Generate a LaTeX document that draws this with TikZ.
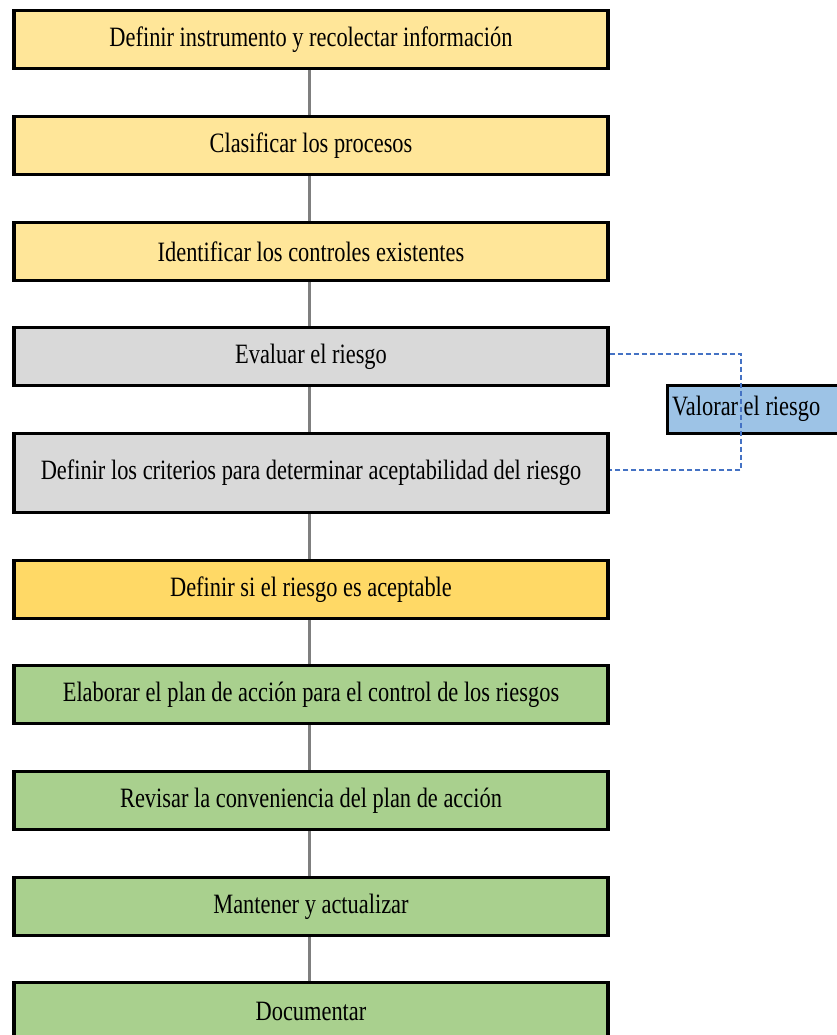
\documentclass[tikz,border=0pt]{standalone}
\usepackage{fontspec}
\setmainfont{Liberation Serif}[FakeStretch=0.8]
\definecolor{ylight}{HTML}{FFE699}
\definecolor{ygold}{HTML}{FFD966}
\definecolor{gbox}{HTML}{D9D9D9}
\definecolor{grn}{HTML}{A9D08E}
\definecolor{blu}{HTML}{9DC3E6}
\definecolor{dashblue}{HTML}{4472C4}
\definecolor{conn}{HTML}{7F7F7F}
\tikzset{
  x=1pt,y=1pt,
  txt/.style={font=\fontsize{28}{32}\selectfont},
  stepbox/.style={draw=black,line width=3.2pt,minimum width=594pt,minimum height=58pt,inner sep=0pt,txt,anchor=north},
  link/.style={draw=conn,line width=3pt},
  dlink/.style={draw=dashblue,line width=1.2pt,dash pattern=on 5pt off 3pt}
}
\begin{document}
\begin{tikzpicture}
\useasboundingbox (0,0) rectangle (837,-1035);
\node[stepbox,fill=ylight] (n1) at (311,-9) {Definir instrumento y recolectar información};
\node[stepbox,fill=ylight] (n2) at (311,-115) {Clasificar los procesos};
\node[stepbox,fill=ylight] (n3) at (311,-221) {Identificar los controles existentes};
\node[stepbox,fill=gbox] (n4) at (311,-326) {Evaluar el riesgo};
\node[stepbox,fill=gbox,minimum height=79pt] (n5) at (311,-432) {Definir los criterios para determinar aceptabilidad del riesgo};
\node[stepbox,fill=ygold] (n6) at (311,-559) {Definir si el riesgo es aceptable};
\node[stepbox,fill=grn] (n7) at (311,-664) {Elaborar el plan de acción para el control de los riesgos};
\node[stepbox,fill=grn] (n8) at (311,-770) {Revisar la conveniencia del plan de acción};
\node[stepbox,fill=grn] (n9) at (311,-876) {Mantener y actualizar};
\node[stepbox,fill=grn] (n10) at (311,-981) {Documentar};
\node[draw=black,line width=3.2pt,fill=blu,minimum width=190pt,minimum height=48pt,anchor=north west,inner sep=0pt] (v) at (666,-384) {};
\node[anchor=west,inner sep=0pt,txt] (vt) at (672,-409) {Valorar el riesgo};
\foreach \a/\b in {n1/n2,n2/n3,n3/n4,n4/n5,n5/n6,n6/n7,n7/n8,n8/n9,n9/n10}
  \draw[link] ([xshift=-2pt]\a.south) -- ([xshift=-2pt]\b.north);
\coordinate (c1) at (741,-354);
\coordinate (c2) at (741,-470);
\draw[dlink] (n4.east |- c1) -- (c1) -- (c2) -- (n5.east |- c2);
\end{tikzpicture}
\end{document}
